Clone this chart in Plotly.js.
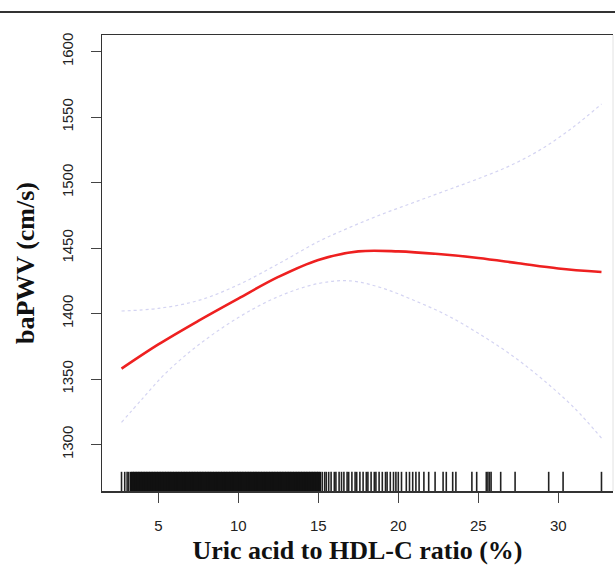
<!DOCTYPE html>
<html>
<head>
<meta charset="utf-8">
<script src="https://cdn.plot.ly/plotly-3.0.1.min.js"></script>
<style>html,body{margin:0;padding:0;background:#fff;}#chart{width:615px;height:571px;}</style>
</head>
<body>
<div id="chart"></div>
<script>
// Fitted curve (red) and 95% CI (dotted)
var fitX = [2.7, 5.0, 7.5, 10.0, 12.5, 15.0, 17.5, 20.0, 22.5, 25.0, 27.5, 30.0, 32.7];
var fitY = [1358, 1376.5, 1394.5, 1411.5, 1428, 1441, 1447.5, 1447.5, 1445.5, 1442.5, 1438.5, 1434.5, 1431.8];
var upperX = [2.7, 5.0, 7.5, 10.0, 12.5, 15.0, 17.0, 19.0, 21.0, 23.0, 25.0, 27.0, 29.0, 31.0, 32.7];
var upperY = [1402, 1404, 1410, 1422, 1438, 1455, 1466, 1476, 1485, 1494, 1503, 1513, 1526, 1543, 1560];
var lowerX = [2.7, 4.0, 5.5, 7.5, 10.0, 12.5, 15.0, 17.0, 19.0, 21.0, 23.0, 25.0, 27.0, 29.0, 31.0, 32.7];
var lowerY = [1317, 1335, 1355, 1376, 1397, 1413, 1423, 1425, 1419.5, 1410, 1399, 1385, 1369, 1350, 1328, 1305];
// Rug of observed ratios: dense core and sparse tail
var rugDenseX = [
  3.3,3.4,3.5,3.6,3.7,3.8,3.9,4.0,4.1,4.2,4.3,4.4,4.5,4.6,4.7,4.8,4.9,5.0,5.1,5.2,5.3,5.4,5.5,5.6,5.7,5.8,5.9,
  6.0,6.1,6.2,6.3,6.4,6.5,6.6,6.7,6.8,6.9,7.0,7.1,7.2,7.3,7.4,7.5,7.6,7.7,7.8,7.9,8.0,8.1,8.2,8.3,8.4,8.5,8.6,8.7,8.8,8.9,
  9.0,9.1,9.2,9.3,9.4,9.5,9.6,9.7,9.8,9.9,10.0,10.1,10.2,10.3,10.4,10.5,10.6,10.7,10.8,10.9,11.0,11.1,11.2,11.3,11.4,11.5,
  11.6,11.7,11.8,11.9,12.0,12.1,12.2,12.3,12.4,12.5,12.6,12.7,12.8,12.9,13.0,13.1,13.2,13.3,13.4,13.5,13.6,13.7,13.8,13.9,
  14.0,14.1,14.2,14.3,14.4,14.5,14.6,14.7,14.8,14.9,15.0,15.1];
var rugSparseX = [2.7, 2.9, 3.05, 3.15,
  15.25,15.4,15.5,15.65,15.8,16.0,16.1,16.3,16.45,16.6,16.8,16.9,17.1,17.3,17.4,17.6,17.8,18.0,18.1,18.3,18.5,18.6,18.8,
  19.0,19.2,19.3,19.5,19.7,19.85,20.0,20.2,
  20.5,20.7,20.9,21.1,21.3,21.6,21.9,22.3,22.8,23.0,23.4,23.6,24.6,24.9,25.5,25.6,25.7,25.8,26.4,27.3,29.4,30.3,32.7];
var rugLevel = 1270.7;
var xTicks = [5, 10, 15, 20, 25, 30];
var yTicks = [1300, 1350, 1400, 1450, 1500, 1550, 1600];
var xTitle = 'Uric acid to HDL-C ratio (%)';
var yTitle = 'baPWV (cm/s)';

function level(arr){ return arr.map(function(){ return rugLevel; }); }

var ciLine = {color: '#d4d4f2', width: 1.2, dash: 'dot', shape: 'spline', smoothing: 1};
var traces = [
  {x: upperX, y: upperY, mode: 'lines', line: ciLine, hoverinfo: 'skip'},
  {x: lowerX, y: lowerY, mode: 'lines', line: ciLine, hoverinfo: 'skip'},
  {x: fitX, y: fitY, mode: 'lines', line: {color: '#ee2020', width: 2.6, shape: 'spline'}},
  {x: rugDenseX, y: level(rugDenseX), mode: 'markers', marker: {symbol: 'line-ns-open', size: 16, color: '#111', line: {color: '#111', width: 2.6}}},
  {x: rugSparseX, y: level(rugSparseX), mode: 'markers', marker: {symbol: 'line-ns-open', size: 16, color: '#222', line: {color: '#222', width: 1.6}}}
];

var tickFont = {family: 'Liberation Sans, Arial, sans-serif', size: 15, color: '#222'};
var titleFont = {family: 'Liberation Serif, Times New Roman, serif', size: 26, color: '#111', weight: 'bold'};

var layout = {
  width: 615, height: 571,
  margin: {l: 102, r: 2, t: 35, b: 80},
  paper_bgcolor: '#fff', plot_bgcolor: '#fff',
  showlegend: false,
  xaxis: {
    range: [1.48, 33.42], tickvals: xTicks, ticktext: xTicks.map(String),
    showgrid: false, zeroline: false,
    showline: true, linecolor: '#333', linewidth: 1.5, mirror: true,
    ticks: 'outside', ticklen: 10, tickwidth: 1.2, tickcolor: '#444',
    tickfont: tickFont, ticklabelstandoff: 10,
    title: {text: xTitle, font: titleFont, standoff: 8}
  },
  yaxis: {
    range: [1264.6, 1612.7], tickvals: yTicks, ticktext: yTicks.map(String),
    showgrid: false, zeroline: false,
    showline: true, linecolor: '#333', linewidth: 1.5,
    ticks: 'outside', ticklen: 10, tickwidth: 1.2, tickcolor: '#444',
    tickangle: -90, tickfont: tickFont, ticklabelstandoff: 12,
    title: {text: yTitle, font: titleFont, standoff: 16}
  },
  shapes: [
    {type: 'line', xref: 'paper', yref: 'paper', x0: 1, x1: 1, y0: 0, y1: 1, line: {color: '#e2e2e2', width: 1}},
    {type: 'line', xref: 'paper', yref: 'paper', x0: -0.25, x1: 1.05, y0: 1.0504, y1: 1.0504, line: {color: '#333', width: 2}}
  ]
};

Plotly.newPlot('chart', traces, layout, {displayModeBar: false, staticPlot: true});
</script>
</body>
</html>
